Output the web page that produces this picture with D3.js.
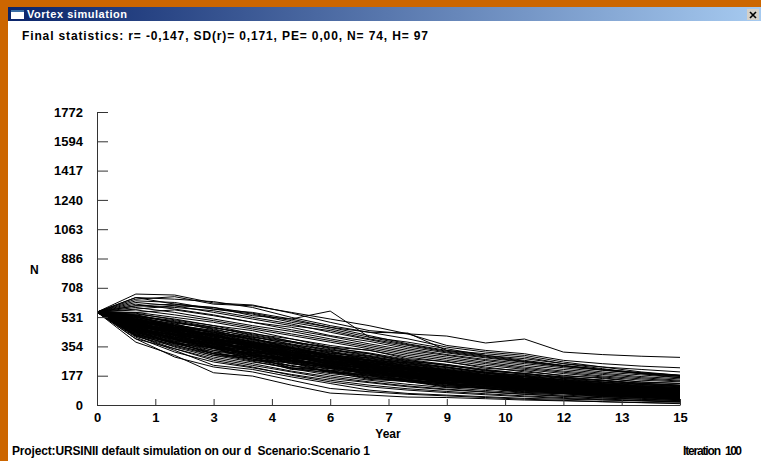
<!DOCTYPE html>
<html>
<head>
<meta charset="utf-8">
<script src="https://cdn.jsdelivr.net/npm/d3@7"></script>
<style>
  body { margin: 0; background: #cc6600; }
  svg { display: block; }
  text { font-family: "Liberation Sans", Arial, sans-serif; font-weight: bold; }
</style>
</head>
<body>
<div class="vortex-plot"></div>
<script>
// years simulated
const years = [0, 1, 2, 3, 4, 5, 6, 7, 8, 9, 10, 11, 12, 13, 14, 15];

// axis ticks as printed by Vortex
const yTickValues = [0, 177.2, 354.4, 531.6, 708.8, 886, 1063.2, 1240.4, 1417.6, 1594.8, 1772];
const yTickLabels = ["0", "177", "354", "531", "708", "886", "1063", "1240", "1417", "1594", "1772"];
const xTickValues = [0, 1.5, 3, 4.5, 6, 7.5, 9, 10.5, 12, 13.5, 15];
const xTickLabels = ["0", "1", "3", "4", "6", "7", "9", "10", "12", "13", "15"];

// runs reaching the top of the fan
const topRuns = [
  [562, 640, 655, 610, 600, 560, 520, 480, 430, 417, 375, 399, 320, 305, 295, 288],
  [562, 620, 600, 590, 540, 520, 568, 411, 380, 340, 300, 280, 250, 230, 215, 200],
  [562, 671, 665, 617, 605, 556, 500, 450, 430, 360, 330, 310, 270, 250, 235, 225],
  [562, 650, 640, 625, 590, 530, 480, 440, 400, 350, 320, 300, 260, 230, 200, 180],
  [562, 600, 610, 590, 555, 510, 470, 440, 435, 330, 310, 290, 250, 220, 190, 165],
  [562, 630, 620, 580, 560, 520, 470, 420, 370, 330, 300, 270, 240, 215, 195, 180],
  [562, 600, 590, 570, 530, 490, 440, 395, 350, 315, 285, 258, 232, 210, 190, 175],
  [562, 580, 600, 560, 520, 480, 450, 400, 360, 320, 290, 262, 236, 212, 190, 172],
  [562, 560, 575, 540, 500, 470, 420, 385, 340, 305, 275, 250, 225, 200, 182, 165],
  [562, 650, 610, 580, 550, 500, 460, 410, 365, 325, 295, 265, 238, 214, 195, 178]
];

// the bulk of the runs
const midRuns = [
  [562, 540, 500, 470, 420, 380, 350, 310, 270, 240, 210, 190, 170, 150, 130, 120],
  [562, 500, 450, 400, 370, 330, 290, 250, 230, 200, 180, 150, 130, 115, 100, 90],
  [562, 480, 430, 380, 340, 300, 260, 230, 200, 170, 150, 130, 110, 95, 85, 70],
  [562, 520, 470, 440, 390, 350, 300, 270, 240, 210, 180, 160, 140, 125, 110, 95],
  [562, 460, 400, 350, 300, 270, 240, 200, 180, 150, 130, 115, 100, 85, 70, 60],
  [562, 510, 480, 420, 360, 320, 280, 260, 220, 190, 170, 140, 120, 105, 90, 80],
  [562, 470, 420, 390, 330, 290, 250, 220, 190, 165, 140, 120, 100, 90, 75, 65],
  [562, 550, 520, 480, 450, 400, 360, 330, 290, 260, 230, 200, 180, 160, 140, 130],
  [562, 440, 380, 330, 290, 250, 220, 190, 160, 140, 120, 100, 85, 70, 60, 50],
  [562, 490, 460, 410, 350, 310, 270, 240, 210, 180, 160, 140, 115, 100, 90, 78],
  [562, 530, 490, 430, 400, 360, 320, 280, 250, 220, 190, 170, 150, 130, 115, 105],
  [562, 450, 410, 360, 320, 280, 230, 210, 180, 155, 135, 110, 95, 80, 68, 55],
  [562, 505, 440, 400, 355, 320, 275, 235, 205, 185, 155, 135, 120, 100, 88, 75],
  [562, 475, 445, 370, 335, 295, 260, 225, 195, 170, 145, 125, 105, 92, 80, 68],
  [562, 560, 530, 500, 460, 420, 380, 340, 300, 270, 240, 215, 190, 170, 150, 140],
  [562, 430, 370, 320, 270, 240, 200, 175, 150, 125, 110, 90, 75, 62, 50, 40],
  [562, 495, 435, 395, 365, 310, 285, 245, 215, 190, 165, 145, 125, 108, 95, 85],
  [562, 515, 455, 415, 375, 335, 295, 265, 225, 200, 175, 150, 135, 118, 102, 92],
  [562, 465, 415, 375, 325, 285, 255, 215, 185, 160, 138, 118, 102, 88, 76, 64],
  [562, 535, 505, 455, 415, 365, 335, 295, 260, 230, 200, 180, 160, 140, 125, 112],
  [562, 485, 425, 365, 345, 305, 265, 230, 200, 178, 152, 128, 112, 98, 84, 72],
  [562, 445, 395, 345, 305, 265, 235, 205, 170, 148, 128, 108, 92, 78, 66, 54],
  [562, 525, 475, 445, 405, 345, 305, 275, 245, 215, 185, 165, 145, 128, 112, 100],
  [562, 455, 425, 385, 335, 295, 245, 215, 190, 162, 142, 122, 104, 90, 78, 66],
  [562, 500, 470, 425, 380, 340, 300, 255, 235, 205, 175, 155, 135, 118, 104, 90],
  [562, 470, 400, 355, 310, 275, 235, 200, 175, 150, 125, 108, 90, 76, 64, 52],
  [562, 545, 495, 465, 435, 385, 345, 315, 275, 245, 215, 190, 168, 150, 132, 120],
  [562, 490, 445, 390, 360, 320, 280, 245, 210, 185, 160, 138, 120, 104, 92, 80],
  [562, 425, 360, 310, 280, 235, 205, 180, 155, 130, 112, 95, 80, 68, 56, 46],
  [562, 510, 465, 430, 385, 345, 310, 270, 235, 205, 182, 160, 140, 122, 108, 96],
  [562, 480, 440, 395, 350, 300, 270, 235, 205, 180, 158, 135, 116, 100, 86, 74],
  [562, 520, 485, 450, 395, 355, 315, 285, 255, 225, 195, 172, 152, 135, 118, 106],
  [562, 460, 410, 365, 320, 280, 240, 205, 178, 152, 132, 112, 96, 82, 70, 58],
  [562, 575, 545, 510, 470, 430, 390, 350, 310, 280, 250, 222, 198, 176, 158, 145],
  [562, 495, 455, 405, 365, 325, 285, 250, 220, 192, 168, 146, 126, 110, 96, 84],
  [562, 440, 390, 340, 295, 260, 225, 195, 165, 142, 122, 102, 88, 74, 62, 50],
  [562, 530, 480, 440, 410, 370, 325, 290, 260, 228, 198, 175, 155, 138, 122, 110],
  [562, 475, 430, 380, 345, 305, 265, 228, 198, 172, 150, 128, 110, 95, 82, 70],
  [562, 505, 460, 420, 370, 330, 292, 258, 226, 196, 172, 150, 130, 114, 100, 88],
  [562, 455, 400, 350, 315, 272, 238, 208, 180, 156, 134, 115, 98, 84, 72, 60],
  [562, 590, 560, 520, 480, 445, 400, 360, 320, 290, 258, 230, 205, 185, 165, 150],
  [562, 485, 440, 400, 355, 315, 278, 242, 212, 186, 162, 140, 122, 106, 92, 80],
  [562, 415, 355, 300, 260, 225, 190, 165, 140, 118, 100, 84, 70, 58, 48, 38],
  [562, 515, 470, 425, 380, 342, 302, 268, 238, 208, 182, 160, 140, 122, 108, 96],
  [562, 470, 420, 370, 330, 290, 252, 220, 192, 166, 144, 124, 106, 92, 80, 68],
  [562, 540, 510, 470, 425, 385, 340, 300, 268, 238, 210, 185, 165, 146, 130, 118],
  [562, 495, 448, 402, 358, 318, 282, 246, 216, 188, 164, 142, 124, 108, 94, 82],
  [562, 450, 405, 355, 310, 268, 232, 200, 172, 148, 128, 108, 92, 78, 66, 55],
  [562, 610, 580, 545, 500, 455, 415, 370, 330, 300, 268, 240, 215, 192, 172, 158],
  [562, 505, 465, 415, 375, 332, 292, 256, 225, 198, 172, 150, 130, 114, 100, 86]
];

// more jagged runs filling the core of the fan
const jaggedRuns = [
  [562, 520, 455, 430, 360, 345, 290, 270, 215, 205, 170, 150, 142, 118, 104, 96],
  [562, 505, 420, 395, 330, 310, 255, 240, 190, 180, 150, 138, 112, 104, 84, 78],
  [562, 470, 445, 380, 360, 300, 285, 230, 215, 170, 160, 130, 120, 95, 88, 70],
  [562, 490, 410, 385, 315, 300, 240, 225, 180, 165, 132, 122, 98, 90, 72, 64],
  [562, 455, 430, 350, 330, 270, 255, 200, 188, 150, 140, 108, 100, 78, 72, 55],
  [562, 535, 470, 440, 380, 350, 300, 285, 235, 215, 182, 170, 140, 130, 108, 100],
  [562, 480, 400, 375, 300, 285, 225, 210, 165, 150, 118, 110, 86, 80, 62, 55],
  [562, 445, 395, 330, 305, 250, 230, 185, 170, 130, 120, 92, 85, 65, 60, 44],
  [562, 515, 480, 410, 385, 320, 305, 250, 235, 190, 178, 145, 135, 110, 102, 88],
  [562, 460, 385, 360, 285, 270, 210, 195, 150, 138, 105, 98, 75, 70, 52, 46],
  [562, 500, 440, 420, 350, 330, 275, 262, 212, 198, 160, 150, 120, 112, 90, 84],
  [562, 430, 380, 310, 290, 225, 210, 165, 150, 115, 105, 80, 75, 56, 50, 36],
  [562, 545, 500, 460, 410, 380, 330, 310, 262, 245, 205, 192, 160, 150, 124, 116],
  [562, 475, 430, 390, 320, 300, 245, 228, 180, 170, 135, 125, 98, 92, 72, 66],
  [562, 490, 455, 375, 350, 285, 265, 210, 195, 155, 145, 112, 105, 82, 76, 60],
  [562, 440, 370, 345, 270, 255, 195, 180, 140, 128, 96, 90, 68, 62, 46, 40],
  [562, 525, 460, 425, 370, 345, 290, 275, 225, 210, 172, 160, 130, 122, 98, 92],
  [562, 465, 420, 355, 335, 265, 250, 195, 182, 140, 132, 100, 94, 72, 66, 50],
  [562, 510, 470, 400, 375, 310, 290, 238, 220, 178, 166, 135, 126, 100, 94, 78],
  [562, 450, 400, 340, 315, 250, 232, 180, 168, 128, 120, 90, 84, 64, 58, 42],
  [562, 495, 430, 410, 340, 320, 262, 248, 198, 185, 148, 138, 110, 102, 80, 74],
  [562, 420, 365, 300, 280, 215, 200, 155, 142, 108, 100, 74, 68, 50, 45, 32],
  [562, 530, 490, 435, 400, 345, 325, 270, 255, 208, 195, 160, 150, 120, 112, 98],
  [562, 470, 395, 370, 295, 280, 220, 205, 160, 148, 112, 104, 80, 74, 56, 50],
  [562, 485, 450, 385, 360, 290, 272, 218, 202, 160, 150, 118, 110, 86, 80, 64],
  [562, 435, 385, 320, 300, 235, 220, 170, 158, 120, 112, 84, 78, 58, 52, 38],
  [562, 555, 515, 480, 430, 400, 350, 332, 280, 262, 222, 208, 175, 165, 138, 130],
  [562, 460, 410, 365, 300, 282, 225, 210, 165, 155, 120, 112, 86, 80, 60, 54],
  [562, 500, 465, 395, 370, 305, 285, 232, 216, 172, 162, 128, 120, 94, 88, 72],
  [562, 450, 375, 350, 275, 260, 200, 188, 145, 135, 100, 94, 70, 66, 48, 42],
  [562, 515, 450, 430, 365, 340, 285, 270, 220, 205, 168, 158, 128, 120, 96, 90],
  [562, 425, 375, 310, 290, 222, 208, 160, 148, 110, 102, 76, 70, 52, 46, 34],
  [562, 480, 440, 370, 350, 282, 262, 208, 194, 150, 140, 108, 102, 78, 72, 58],
  [562, 540, 480, 450, 395, 365, 312, 296, 245, 230, 192, 180, 148, 138, 114, 106],
  [562, 455, 405, 350, 310, 260, 238, 190, 176, 136, 126, 96, 90, 68, 62, 48]
];

// runs along the bottom edge
const lowRuns = [
  [562, 380, 300, 195, 175, 120, 72, 60, 48, 45, 38, 30, 25, 20, 15, 12],
  [562, 400, 290, 230, 200, 150, 100, 80, 65, 55, 45, 35, 28, 20, 14, 8],
  [562, 420, 330, 240, 215, 170, 130, 90, 70, 60, 50, 40, 35, 30, 25, 20],
  [562, 420, 340, 280, 240, 200, 160, 135, 110, 92, 78, 64, 52, 42, 34, 26],
  [562, 435, 350, 290, 250, 205, 170, 140, 115, 96, 80, 66, 54, 44, 36, 28],
  [562, 410, 320, 260, 225, 185, 150, 120, 98, 82, 68, 55, 45, 36, 28, 22],
  [562, 445, 375, 310, 265, 220, 180, 150, 125, 105, 88, 72, 60, 50, 40, 32],
  [562, 400, 340, 270, 230, 180, 140, 110, 90, 75, 62, 50, 40, 32, 25, 18]
];

const width = 761;
const height = 461;

const svg = d3.select('.vortex-plot')
    .append('svg')
    .attr('width', width)
    .attr('height', height)

// window frame
svg.append('rect')
    .attr('width', width)
    .attr('height', height)
    .attr('fill', '#cc6600');

svg.append('rect')
    .attr('x', 8)
    .attr('y', 7)
    .attr('width', width - 8)
    .attr('height', height - 7)
    .attr('fill', '#ffffff');

var gradient = svg.append('defs')
    .append('linearGradient')
    .attr('id', 'caption')
    .attr('x1', '0%')
    .attr('x2', '100%');
gradient.append('stop').attr('offset', '0%').attr('stop-color', '#0a246a');
gradient.append('stop').attr('offset', '100%').attr('stop-color', '#a6caf0');

svg.append('rect')
    .attr('x', 8)
    .attr('y', 7)
    .attr('width', width - 8)
    .attr('height', 14)
    .attr('fill', 'url(#caption)');

// small window icon
svg.append('rect').attr('x', 11).attr('y', 10).attr('width', 13).attr('height', 9).attr('fill', '#ffffff');
svg.append('rect').attr('x', 11).attr('y', 10).attr('width', 13).attr('height', 2).attr('fill', '#3a6ea5');

svg.append('text')
    .attr('x', 27)
    .attr('y', 18)
    .attr('fill', '#ffffff')
    .style('font-size', '11px')
    .attr('textLength', 100)
    .text('Vortex simulation');

// close button
svg.append('rect')
    .attr('x', 747).attr('y', 9).attr('width', 12).attr('height', 11)
    .attr('fill', '#d4d0c8');
svg.append('path')
    .attr('d', 'M750,12 L756,18 M756,12 L750,18')
    .attr('stroke', '#000')
    .attr('stroke-width', 1.6);

svg.append('text')
    .attr('x', 22)
    .attr('y', 40)
    .attr('fill', '#000')
    .style('font-size', '12px')
    .attr('textLength', 406)
    .text('Final statistics: r= -0,147, SD(r)= 0,171, PE= 0,00, N= 74, H= 97');

// scales
const x = d3.scaleLinear().domain([0, 15]).range([97, 680]);
const y = d3.scaleLinear().domain([0, 1772]).range([405, 112]);

const line = d3.line()
    .x((d, i) => x(years[i]))
    .y(d => y(d));

const runs = topRuns.concat(midRuns, jaggedRuns, lowRuns);

svg.append('g')
    .selectAll('path')
    .data(runs)
    .enter()
    .append('path')
    .attr('d', line)
    .attr('fill', 'none')
    .attr('stroke', '#000')
    .attr('stroke-width', 1);

// axes
svg.append('g')
    .attr('transform', 'translate(97,0)')
    .call(d3.axisLeft(y)
        .tickValues(yTickValues)
        .tickFormat((d, i) => yTickLabels[i])
        .tickSizeInner(-11)
        .tickSizeOuter(0)
        .tickPadding(14));

svg.append('g')
    .attr('transform', 'translate(0,405)')
    .call(d3.axisBottom(x)
        .tickValues(xTickValues)
        .tickFormat((d, i) => xTickLabels[i])
        .tickSizeInner(-6)
        .tickSizeOuter(0)
        .tickPadding(8));

svg.selectAll('.domain, .tick line')
    .attr('stroke', '#333');
svg.selectAll('.tick text')
    .attr('fill', '#000')
    .style('font-size', '13px')
    .style('font-family', '"Liberation Sans", Arial, sans-serif')
    .style('font-weight', 'bold');

svg.append('text')
    .attr('x', 30)
    .attr('y', 274)
    .style('font-size', '12px')
    .text('N');

svg.append('text')
    .attr('x', 388)
    .attr('y', 438)
    .attr('text-anchor', 'middle')
    .style('font-size', '12px')
    .text('Year');

svg.append('text')
    .attr('x', 12)
    .attr('y', 455)
    .style('font-size', '12px')
    .attr('textLength', 358)
    .text('Project:URSINII default simulation on our d  Scenario:Scenario 1')
    .attr('xml:space', 'preserve');

svg.append('text')
    .attr('x', 683)
    .attr('y', 455)
    .style('font-size', '12px')
    .attr('textLength', 38)
    .text('Iteration');

svg.append('text')
    .attr('x', 725)
    .attr('y', 455)
    .style('font-size', '12px')
    .attr('textLength', 17)
    .text('100');
</script>
</body>
</html>
